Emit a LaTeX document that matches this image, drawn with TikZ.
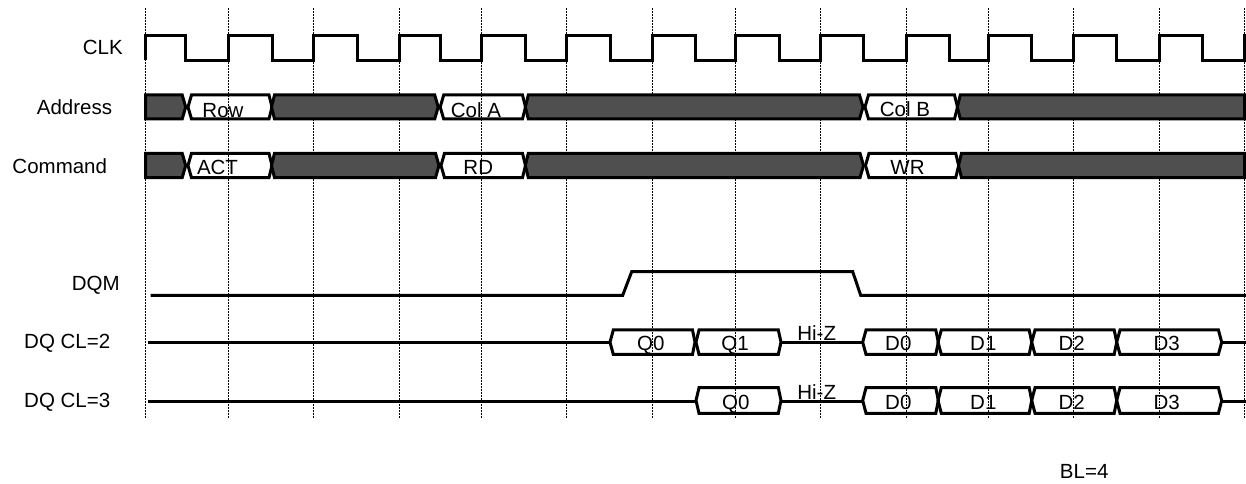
\documentclass[tikz,border=0pt]{standalone}
\usepackage{fontspec}
\setmainfont{Liberation Sans}
\definecolor{busdark}{HTML}{4F4F4F}
\tikzset{
  wave/.style={line width=3bp, line join=miter, line cap=butt},
  gridline/.style={line width=1bp, dash pattern=on 1.6bp off 1.4bp},
  sig/.style={font=\fontsize{20.5bp}{24bp}\selectfont, inner sep=0pt, anchor=base west},
  val/.style={font=\fontsize{20.5bp}{24bp}\selectfont, inner sep=0pt, anchor=base},
}
% \busseg{xs}{xe}{yc}{hh}{fill}{left slant}{right slant}
\newcommand\busseg[7]{%
  \draw[wave, #5] (#1,#3) -- ({#1+#6},{#3-#4}) -- ({#2-#7},{#3-#4}) -- (#2,#3)
    -- ({#2-#7},{#3+#4}) -- ({#1+#6},{#3+#4}) -- cycle;}
\begin{document}
\begin{tikzpicture}[x=1bp, y=-1bp]
\useasboundingbox (0,0) rectangle (1246,484);
% grid
\foreach \gx in {145.7,228.7,313.7,399.3,481.7,566.7,652.3,735,820.7,906,988.3,1073.7,1159.3,1244.7}
  \draw[gridline] (\gx,8) -- (\gx,418);
% labels
\node[sig] (lclk) at (82.7,55) {CLK};
\node[sig] (laddr) at (36.7,115) {Address};
\node[sig] (lcmd) at (12.3,173.3) {Command};
\node[sig] (ldqm) at (71.7,290.5) {DQM};
\node[sig] (ldq2) at (24,349) {DQ CL=2};
\node[sig] (ldq3) at (24,407) {DQ CL=3};
\node[val] (lbl) at (1084.2,478.3) {BL=4};
% clock
\draw[wave] (145.7,60.3) -- (145.7,35.7)
  \foreach \r/\f in {228.7/185,313.7/272.7,399.3/357.7,481.7/440,566.7/525.7,652.3/610.7,735/695.7,820.7/779,906/863.3,988.3/949,1073.7/1031.7,1159.3/1116.7,1244.7/1202.3}{
    -- (\f,35.7) -- (\f,60.3) -- (\r,60.3) -- (\r,35.7)} -- (1246,35.7);
% address bus
\busseg{145.7}{185.7}{107}{12}{fill=busdark}{0}{3.5}
\busseg{188}{272}{107}{12}{}{3.5}{3}
\busseg{271.5}{438.2}{107}{12}{fill=busdark}{3}{3.5}
\busseg{440.2}{525.5}{107}{12}{}{3.5}{3}
\busseg{525.3}{863}{107}{12}{fill=busdark}{3}{3.5}
\busseg{865}{957.5}{107}{12}{}{3.5}{3}
\busseg{957.3}{1244.7}{107}{12}{fill=busdark}{3}{0}
\node[val] (vrow) at (223,117.3) {Row};
\node[val] (vcola) at (476,117.3) {Col A};
\node[val] (vcolb) at (905,116.7) {Col B};
% command bus
\busseg{145.7}{185.7}{165.5}{12.2}{fill=busdark}{0}{3.5}
\busseg{188}{272}{165.5}{12.2}{}{3.5}{3}
\busseg{271.5}{439}{165.5}{12.2}{fill=busdark}{3}{3.5}
\busseg{441}{525.5}{165.5}{12.2}{}{3.5}{3}
\busseg{525.3}{863.5}{165.5}{12.2}{fill=busdark}{3}{3.5}
\busseg{865.5}{958.7}{165.5}{12.2}{}{3.5}{3}
\busseg{958.5}{1244.7}{165.5}{12.2}{fill=busdark}{3}{0}
\node[val] (vact) at (217.5,175) {ACT};
\node[val] (vrd) at (478.3,175) {RD};
\node[val] (vwr) at (907.5,175) {WR};
% DQM
\draw[wave] (150.7,295.3) -- (622.7,295.3) -- (631.7,271.7) -- (852.7,271.7) -- (860.7,295.3) -- (1246,295.3);
% DQ CL=2
\draw[wave] (147.7,343) -- (610,343);
\draw[wave] (781,343) -- (862.7,343);
\draw[wave] (1221.7,343) -- (1246,343);
\busseg{610}{695}{342.2}{12.2}{}{3.3}{2.5}
\busseg{696}{781}{342.2}{12.2}{}{3}{2.7}
\busseg{862.7}{938.3}{342.2}{12.2}{}{3.3}{2.5}
\busseg{938}{1031.7}{342.2}{12.2}{}{3.3}{2.5}
\busseg{1031.7}{1116.7}{342.2}{12.2}{}{3.3}{2.5}
\busseg{1116.7}{1221.7}{342.2}{12.2}{}{3.3}{3.3}
\node[val] (q0a) at (650.8,351) {Q0};
\node[val] (q1a) at (735,351) {Q1};
\node[val] (hza) at (816.7,341) {Hi-Z};
\node[val] (d0a) at (898.3,351) {D0};
\node[val] (d1a) at (983.3,351) {D1};
\node[val] (d2a) at (1071.7,351) {D2};
\node[val] (d3a) at (1166.7,351) {D3};
% DQ CL=3
\draw[wave] (147.7,401.5) -- (696,401.5);
\draw[wave] (781,401.5) -- (862.7,401.5);
\draw[wave] (1221.7,401.5) -- (1246,401.5);
\busseg{696}{781}{400.5}{12.8}{}{3}{2.7}
\busseg{862.7}{938.3}{400.5}{12.8}{}{3.3}{2.5}
\busseg{938}{1031.7}{400.5}{12.8}{}{3.3}{2.5}
\busseg{1031.7}{1116.7}{400.5}{12.8}{}{3.3}{2.5}
\busseg{1116.7}{1221.7}{400.5}{12.8}{}{3.3}{3.3}
\node[val] (q0b) at (735.8,409.5) {Q0};
\node[val] (hzb) at (816.7,399.3) {Hi-Z};
\node[val] (d0b) at (898.3,409.5) {D0};
\node[val] (d1b) at (983.3,409.5) {D1};
\node[val] (d2b) at (1071.7,409.5) {D2};
\node[val] (d3b) at (1166.7,409.5) {D3};
\end{tikzpicture}
\end{document}
